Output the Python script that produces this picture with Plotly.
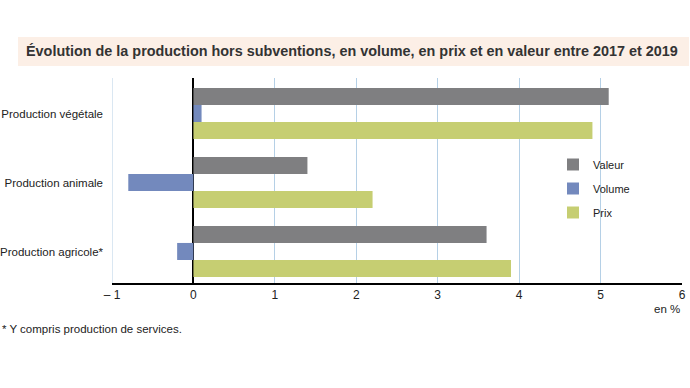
import plotly.graph_objects as go

categories = ["Production végétale", "Production animale", "Production agricole*"]
valeur = [5.1, 1.4, 3.6]
volume = [0.1, -0.8, -0.2]
prix = [4.9, 2.2, 3.9]
tick_vals = [-1, 0, 1, 2, 3, 4, 5, 6]
tick_text = ["– 1", "0", "1", "2", "3", "4", "5", "6"]

FONT = "Liberation Sans Narrow, Arial Narrow, Liberation Sans, Arial, sans-serif"

fig = go.Figure()
series = [("Valeur", valeur, "#7f7f81"), ("Volume", volume, "#7389bd"), ("Prix", prix, "#c6ce72")]
for name, vals, col in series:
    fig.add_trace(go.Bar(y=categories, x=vals, name=name, orientation="h",
                         marker=dict(color=col, line=dict(width=0)),
                         legendgroup=name))

W, H = 690, 388
L, R, T, B = 112, 8, 78, 105
pw = W - L - R
ph = H - T - B

def px(x):
    return (x - L) / pw

def py(y):
    return (H - B - y) / ph

fig.update_layout(
    width=W, height=H,
    margin=dict(l=L, r=R, t=T, b=B, pad=0, autoexpand=False),
    paper_bgcolor="white", plot_bgcolor="white",
    font=dict(family=FONT, size=12, color="#222222"),
    barmode="group", bargap=0.26, bargroupgap=0,
    showlegend=True,
    legend=dict(x=px(553), y=py(150), xanchor="left", yanchor="top",
                font=dict(size=11, color="#222222"),
                traceorder="grouped", tracegroupgap=5,
                bgcolor="rgba(0,0,0,0)", itemwidth=30),
    xaxis=dict(range=[-1, 6], tickvals=tick_vals, ticktext=tick_text,
               showgrid=True, gridcolor="#b5d0e6", gridwidth=1,
               zeroline=True, zerolinecolor="#000000", zerolinewidth=2,
               showline=True, linecolor="#000000", linewidth=2,
               ticks="", automargin=False,
               tickfont=dict(size=12, color="#222222")),
    yaxis=dict(categoryorder="array", categoryarray=categories,
               range=[2.457, -0.514], showgrid=False, zeroline=False,
               showline=False, ticks="", ticklabelstandoff=8, automargin=False,
               tickfont=dict(size=11.5, color="#222222")),
)

fig.add_shape(type="line", xref="x", yref="paper", x0=-1, x1=-1, y0=0, y1=1,
              line=dict(color="#b5d0e6", width=1), layer="below")

fig.add_shape(type="rect", xref="paper", yref="paper",
              x0=px(18), x1=px(689), y0=py(66), y1=py(37),
              fillcolor="#fcefe6", line=dict(width=0), layer="below")

fig.add_annotation(xref="paper", yref="paper", x=px(24), y=py(51),
                   xanchor="left", yanchor="middle", showarrow=False,
                   text="<b>Évolution de la production hors subventions, en volume, en prix et en valeur entre 2017 et 2019</b>",
                   font=dict(size=14.4, color="#333333", family=FONT))

fig.add_annotation(xref="paper", yref="paper", x=1, y=py(309),
                   xanchor="right", yanchor="middle", showarrow=False,
                   text="en %", font=dict(size=11.5, color="#222222", family=FONT))

fig.add_annotation(xref="paper", yref="paper", x=px(0), y=py(329),
                   xanchor="left", yanchor="middle", showarrow=False,
                   text="* Y compris production de services.",
                   font=dict(size=11.5, color="#222222", family=FONT))

fig.write_html("out.html", config={"displayModeBar": False},
               post_script="document.body.style.margin='0';")
